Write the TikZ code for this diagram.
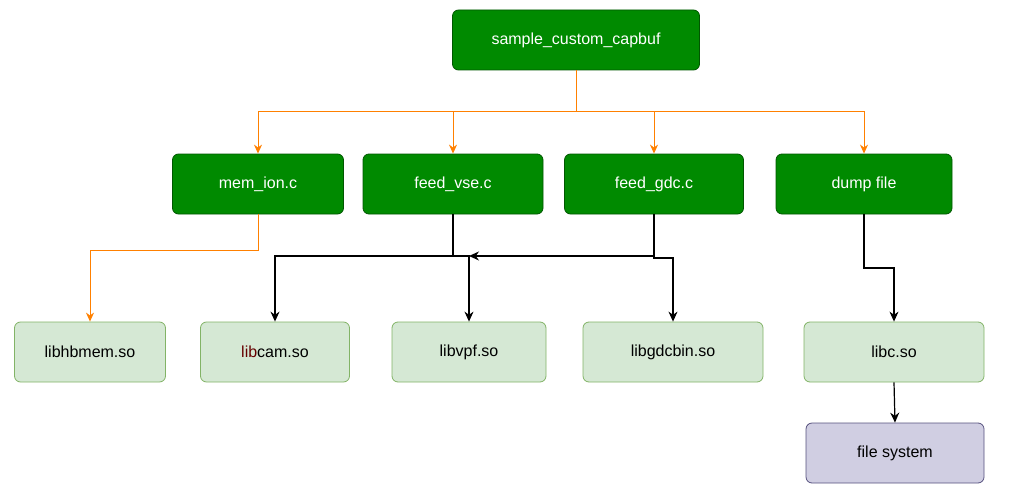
\documentclass[tikz,border=0pt]{standalone}
\usepackage{fontspec}
\setmainfont{Liberation Sans}
\usetikzlibrary{arrows.meta}
\definecolor{dg}{HTML}{008A00}
\definecolor{dgb}{HTML}{005700}
\definecolor{lg}{HTML}{D5E8D4}
\definecolor{lgb}{HTML}{82B366}
\definecolor{pu}{HTML}{D0CEE2}
\definecolor{pub}{HTML}{56517E}
\definecolor{or}{HTML}{FF8000}
\begin{document}
\begin{tikzpicture}[x=1pt,y=-1pt,
  box/.style={rounded corners=6pt,line width=0.8pt,font=\fontsize{16}{19}\selectfont,anchor=center,inner sep=0pt},
  top/.style={box,fill=dg,draw=dgb,text=white},
  lib/.style={box,fill=lg,draw=lgb,text=black},
  oa/.style={draw=or,line width=1pt,-{Stealth[length=9pt,width=8pt]}},
  ba/.style={draw=black,line width=1.2pt,-{Stealth[length=10pt,width=9pt]}}]
\useasboundingbox (0,0) rectangle (1009,495);
\node[top,minimum width=247pt,minimum height=60pt] (s) at (576,40) {sample\_custom\_capbuf};
\node[top,minimum width=171pt,minimum height=60pt] (m) at (258,184) {mem\_ion.c};
\node[top,minimum width=180pt,minimum height=60pt] (v) at (453,184) {feed\_vse.c};
\node[top,minimum width=179pt,minimum height=60pt] (g) at (654,184) {feed\_gdc.c};
\node[top,minimum width=176pt,minimum height=60pt] (d) at (864,184) {dump file};
\node[lib,minimum width=151pt,minimum height=60pt] (h) at (90,352) {libhbmem.so};
\node[lib,minimum width=149pt,minimum height=60pt] (c) at (275,352) {\textcolor[HTML]{660000}{lib}cam.so};
\node[lib,minimum width=154pt,minimum height=60pt] (p) at (469,352) {libvpf.so};
\node[lib,minimum width=180pt,minimum height=60pt] (b) at (673,352) {libgdcbin.so};
\node[lib,minimum width=180pt,minimum height=60pt] (l) at (894,352) {libc.so};
\node[box,fill=pu,draw=pub,minimum width=178pt,minimum height=60pt] (f) at (895,453) {file system};
\draw[oa] (s.south) |- (258,111) -- (m.north);
\draw[oa] (s.south) |- (453,111) -- (v.north);
\draw[oa] (s.south) |- (654,111) -- (g.north);
\draw[oa] (s.south) |- (864,111) -- (d.north);
\draw[oa] (m.south) |- (90,250) -- (h.north);
\draw[ba] (v.south) |- (275,256) -- (c.north);
\draw[ba] (v.south) |- (469,256) -- (p.north);
\draw[ba] (g.south) |- (469,256);
\draw[ba] (g.south) -- (654,258) -- (673,258) -- (b.north);
\draw[ba] (d.south) |- (894,268) -- (l.north);
\draw[ba] (l.south) -- (f.north);
\end{tikzpicture}
\end{document}
